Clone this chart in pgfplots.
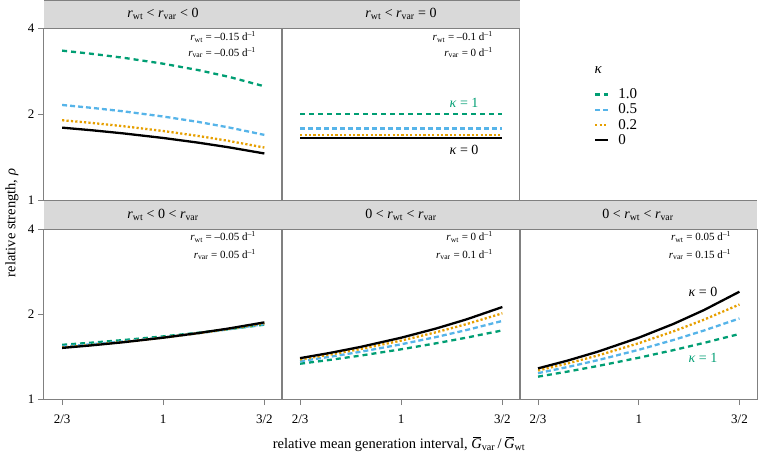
\documentclass[border=0pt]{standalone}
\usepackage{fontspec}
\setmainfont{Liberation Serif}
\usepackage{pgfplots}
\pgfplotsset{compat=1.18}
\usepackage{pgfplotstable}
\definecolor{cgreen}{HTML}{009E73}
\definecolor{cblue}{HTML}{56B4E9}
\definecolor{corange}{HTML}{E69F00}
\definecolor{framegray}{HTML}{808080}
\definecolor{stripgray}{HTML}{D9D9D9}
\newcommand{\tickfont}{\fontsize{13}{15}\selectfont}
\newcommand{\annfont}{\fontsize{11}{13}\selectfont}
\newcommand{\stripfont}{\fontsize{14}{16}\selectfont}
\newcommand{\rr}[1]{\textit{r}\textsubscript{#1}}
\newcommand{\Gbar}{\leavevmode\rlap{\hspace{2.2pt}\rule[11.2pt]{7.5pt}{0.6pt}}\textit{G}}

% x = relative mean generation interval; g: kappa=1, b: 0.5, o: 0.2, k: 0
\pgfplotstableread{
x g b o k
0.6667 3.3333 2.1511 1.9024 1.7920
0.75 3.25 2.1025 1.8617 1.7551
0.85 3.15 2.0449 1.8138 1.7117
1 3.0 1.96 1.7439 1.6487
1.15 2.85 1.8769 1.6762 1.5880
1.3 2.70 1.7956 1.6105 1.5296
1.5 2.50 1.69 1.5262 1.4550
}\tA
\pgfplotstableread{
x g b o k
0.6667 2.0 1.7778 1.6935 1.6487
1 2.0 1.7778 1.6935 1.6487
1.5 2.0 1.7778 1.6935 1.6487
}\tB
\pgfplotstableread{
x g b o k
0.6667 1.5556 1.5329 1.5226 1.5169
0.75 1.5833 1.5625 1.5535 1.5488
0.85 1.6167 1.5984 1.5913 1.5880
1 1.6667 1.6531 1.6494 1.6487
1.15 1.7167 1.7086 1.7092 1.7117
1.3 1.7667 1.7651 1.7707 1.7771
1.5 1.8333 1.8418 1.8554 1.8682
}\tC
\pgfplotstableread{
x g b o k
0.6667 1.3333 1.3611 1.3808 1.3956
0.75 1.375 1.4102 1.4356 1.4550
0.85 1.425 1.4702 1.5037 1.5296
1 1.5 1.5625 1.6105 1.6487
1.15 1.575 1.6577 1.7234 1.7771
1.3 1.65 1.7556 1.8424 1.9155
1.5 1.75 1.8906 2.0114 2.1170
}\tD
\pgfplotstableread{
x g b o k
0.6667 1.2 1.2346 1.2619 1.2840
0.75 1.25 1.2971 1.3352 1.3668
0.85 1.31 1.3741 1.4277 1.4733
1 1.4 1.4938 1.5760 1.6487
1.15 1.49 1.6185 1.7363 1.8450
1.3 1.58 1.7483 1.9094 2.0649
1.5 1.7 1.9290 2.1614 2.3989
}\tE

\pgfplotsset{
  panel/.style={
    scale only axis,
    xmin=0.62, xmax=1.61, ymin=1, ymax=4,
    axis line style={framegray, line width=1pt},
    tick style={framegray, line width=0.8pt},
    tick align=outside, major tick length=6pt,
    minor tick num=0,
    xtick=\empty, ytick=\empty,
    xtick pos=lower, ytick pos=left,
    tick label style={font=\tickfont},
  },
  yt/.style={ytick={1,2,4}, yticklabels={1,2,4}},
  xt/.style={xtick={0.6667,1,1.5}, xticklabels={2/3,1,3/2},
    xticklabel style={yshift=-6pt}},
  sg/.style={cgreen, line width=2.3pt, dash pattern=on 5pt off 4pt},
  sb/.style={cblue, line width=2.3pt, dash pattern=on 5pt off 3pt},
  so/.style={corange, line width=2.3pt, dash pattern=on 2.2pt off 2.2pt},
  sk/.style={black, line width=2.3pt},
}

\begin{document}
\begin{tikzpicture}
\path[use as bounding box] (0pt,0pt) rectangle (758pt,-464pt);

% strips
\foreach \xa/\xb/\ya/\yb in {44/282/0/-28, 282/520/0/-28, 44/282/-200/-229, 282/520/-200/-229, 520/757/-200/-229}{
  \fill[stripgray] (\xa pt,\ya pt) rectangle (\xb pt,\yb pt);
  \draw[framegray, line width=1pt] (\xa pt,\ya pt) -- (\xb pt,\ya pt);
  \draw[framegray, line width=1pt] (\xa pt,\yb pt) -- (\xb pt,\yb pt);
}
\node[font=\stripfont] at (163pt,-14pt) {\rr{wt} < \rr{var} < 0};
\node[font=\stripfont] at (401pt,-14pt) {\rr{wt} < \rr{var} = 0};
\node[font=\stripfont] at (163pt,-214.5pt) {\rr{wt} < 0 < \rr{var}};
\node[font=\stripfont] at (401pt,-214.5pt) {0 < \rr{wt} < \rr{var}};
\node[font=\stripfont] at (638pt,-214.5pt) {0 < \rr{wt} < \rr{var}};

% panel 1
\begin{axis}[xmode=log, ymode=log, panel, yt, width=238pt, height=172pt, at={(44pt,-28pt)}, anchor=north west]
\addplot[sg] table[x=x,y=g]{\tA};
\addplot[sb] table[x=x,y=b]{\tA};
\addplot[so] table[x=x,y=o]{\tA};
\addplot[sk] table[x=x,y=k]{\tA};
\node[anchor=east, font=\annfont] at (rel axis cs:0.905,0.948) {\rr{wt} = –0.15 d\textsuperscript{–1}};
\node[anchor=east, font=\annfont] at (rel axis cs:0.905,0.858) {\rr{var} = –0.05 d\textsuperscript{–1}};
\end{axis}

% panel 2
\begin{axis}[xmode=log, ymode=log, panel, width=238pt, height=172pt, at={(282pt,-28pt)}, anchor=north west,
  legend style={draw=none, fill=none, inner sep=0pt, font=\fontsize{15}{17}\selectfont,
    at={(axis description cs:1.31,0.655)}, anchor=north west, row sep=1.3pt,
    nodes={inner sep=1.2pt}},
  legend cell align=left,
  legend image code/.code={\draw[#1] (0pt,0pt) -- (13pt,0pt); \path (21pt,0pt);}]
\addplot[sg] table[x=x,y=g]{\tB};
\addlegendentry{1.0}
\addplot[sb] table[x=x,y=b]{\tB};
\addlegendentry{0.5}
\addplot[so] table[x=x,y=o]{\tB};
\addlegendentry{0.2}
\addplot[sk] table[x=x,y=k]{\tB};
\addlegendentry{0}
\node[anchor=east, font=\annfont] at (rel axis cs:0.9,0.948) {\rr{wt} = –0.1 d\textsuperscript{–1}};
\node[anchor=east, font=\annfont] at (rel axis cs:0.9,0.858) {\rr{var} = 0 d\textsuperscript{–1}};
\node[font=\stripfont, text=cgreen] at (rel axis cs:0.765,0.564) {\textit{κ} = 1};
\node[font=\stripfont] at (rel axis cs:0.765,0.29) {\textit{κ} = 0};
\end{axis}
\node[anchor=west, font=\fontsize{15}{17}\selectfont] at (591pt,-70pt) {\textit{κ}};

% panel 3
\begin{axis}[xmode=log, ymode=log, panel, yt, xt, width=238pt, height=170pt, at={(44pt,-229pt)}, anchor=north west]
\addplot[sg] table[x=x,y=g]{\tC};
\addplot[sb] table[x=x,y=b]{\tC};
\addplot[so] table[x=x,y=o]{\tC};
\addplot[sk] table[x=x,y=k]{\tC};
\node[anchor=east, font=\annfont] at (rel axis cs:0.905,0.953) {\rr{wt} = –0.05 d\textsuperscript{–1}};
\node[anchor=east, font=\annfont] at (rel axis cs:0.905,0.85) {\rr{var} = 0.05 d\textsuperscript{–1}};
\end{axis}

% panel 4
\begin{axis}[xmode=log, ymode=log, panel, xt, width=238pt, height=170pt, at={(282pt,-229pt)}, anchor=north west]
\addplot[sg] table[x=x,y=g]{\tD};
\addplot[sb] table[x=x,y=b]{\tD};
\addplot[so] table[x=x,y=o]{\tD};
\addplot[sk] table[x=x,y=k]{\tD};
\node[anchor=east, font=\annfont] at (rel axis cs:0.9,0.953) {\rr{wt} = 0 d\textsuperscript{–1}};
\node[anchor=east, font=\annfont] at (rel axis cs:0.9,0.85) {\rr{var} = 0.1 d\textsuperscript{–1}};
\end{axis}

% panel 5
\begin{axis}[xmode=log, ymode=log, panel, xt, width=237pt, height=170pt, at={(520pt,-229pt)}, anchor=north west]
\addplot[sg] table[x=x,y=g]{\tE};
\addplot[sb] table[x=x,y=b]{\tE};
\addplot[so] table[x=x,y=o]{\tE};
\addplot[sk] table[x=x,y=k]{\tE};
\node[anchor=east, font=\annfont] at (rel axis cs:0.905,0.953) {\rr{wt} = 0.05 d\textsuperscript{–1}};
\node[anchor=east, font=\annfont] at (rel axis cs:0.905,0.85) {\rr{var} = 0.15 d\textsuperscript{–1}};
\node[font=\stripfont] at (rel axis cs:0.772,0.629) {\textit{κ} = 0};
\node[font=\stripfont, text=cgreen] at (rel axis cs:0.772,0.241) {\textit{κ} = 1};
\end{axis}

% axis labels
\node[rotate=90, font=\fontsize{14.5}{16}\selectfont] at (12pt,-223pt) {relative strength, \textit{ρ}};
\node[font=\fontsize{14.5}{16}\selectfont] at (399pt,-444pt) {relative mean generation interval, \Gbar\textsubscript{var}\,/\,\Gbar\textsubscript{wt}};
\end{tikzpicture}
\end{document}
